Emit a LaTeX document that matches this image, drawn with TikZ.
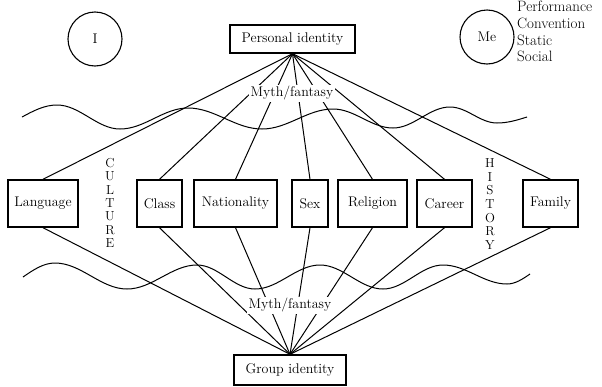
\documentclass[tikz,border=0pt]{standalone}
\usepackage{tikz}

\begin{document}
\begin{tikzpicture}[x=1pt,y=-1pt,
		font=\fontsize{14}{16}\selectfont,
		box/.style={draw,line width=1.4pt,minimum height=47,inner sep=2pt},
		link/.style={line width=1pt},
		wave/.style={line width=1pt},
		myth/.style={fill=white,inner sep=1.5pt}]
				\useasboundingbox (0,0) rectangle (602,386);

				\node[draw,circle,line width=1.1pt,minimum size=54] (I) at (95,39) {I};
				\node[draw,circle,line width=1.1pt,minimum size=54] (Me) at (487,37) {Me};
				\node[anchor=north west,align=left,inner sep=0pt,font=\fontsize{15}{16.7}\selectfont] (modes) at (517,1) {Performance\\Convention\\Static\\Social};

				\node[draw,line width=1.4pt,minimum width=125,minimum height=28] (P) at (292.5,39) {Personal identity};
				\node[draw,line width=1.4pt,minimum width=112,minimum height=30] (G) at (290,370) {Group identity};

				\node[box,minimum width=70] (Lan) at (43,203.5) {Language};
				\node[box,minimum width=45] (Cla) at (159.5,203.5) {Class};
				\node[box,minimum width=83] (Nat) at (235.5,203.5) {Nationality};
				\node[box,minimum width=36] (Sex) at (310,203.5) {Sex};
				\node[box,minimum width=69] (Rel) at (372.5,203.5) {Religion};
				\node[box,minimum width=55] (Car) at (444.5,203.5) {Career};
				\node[box,minimum width=55] (Fam) at (550.5,203.5) {Family};

				\node[align=center,inner sep=0pt,font=\fontsize{13}{13.3}\selectfont] (cult) at (110,203) {C\\U\\L\\T\\U\\R\\E};
				\node[align=center,inner sep=0pt,font=\fontsize{13}{13.6}\selectfont] (hist) at (490,204) {H\\I\\S\\T\\O\\R\\Y};

				\draw[wave] (22,117) sin (57,105) cos (88.5,117) sin (120,129) cos (154,118.5) sin (188,108) cos (225,118.5) sin (262,129) cos (297.5,119) sin (333,109) cos (363,118.5) sin (393,128) cos (421.5,117.5) sin (450,107) cos (473.5,115) sin (497,123) cos (527,117);
				\draw[wave] (23,277) sin (55,263) cos (91,276) sin (127,289) cos (162,277) sin (197,265) cos (226,277) sin (255,289) cos (287.5,277) sin (320,265) cos (351.5,277) sin (383,289) cos (413,277) sin (443,265) cos (475,274.5) sin (507,284) cos (530,274);

				\draw[link] (P.south) -- (Lan.north);
				\draw[link] (P.south) -- (Cla.north);
				\draw[link] (P.south) -- (Nat.north);
				\draw[link] (P.south) -- (Sex.north);
				\draw[link] (P.south) -- (Rel.north);
				\draw[link] (P.south) -- (Car.north);
				\draw[link] (P.south) -- (Fam.north);

				\draw[link] (Lan.south) -- (G.north);
				\draw[link] (Cla.south) -- (G.north);
				\draw[link] (Nat.south) -- (G.north);
				\draw[link] (Sex.south) -- (G.north);
				\draw[link] (Rel.south) -- (G.north);
				\draw[link] (Car.south) -- (G.north);
				\draw[link] (Fam.south) -- (G.north);

				\node[myth] (M1) at (292,93) {Myth/fantasy};
				\node[myth] (M2) at (290,305) {Myth/fantasy};
			\end{tikzpicture}
\end{document}
